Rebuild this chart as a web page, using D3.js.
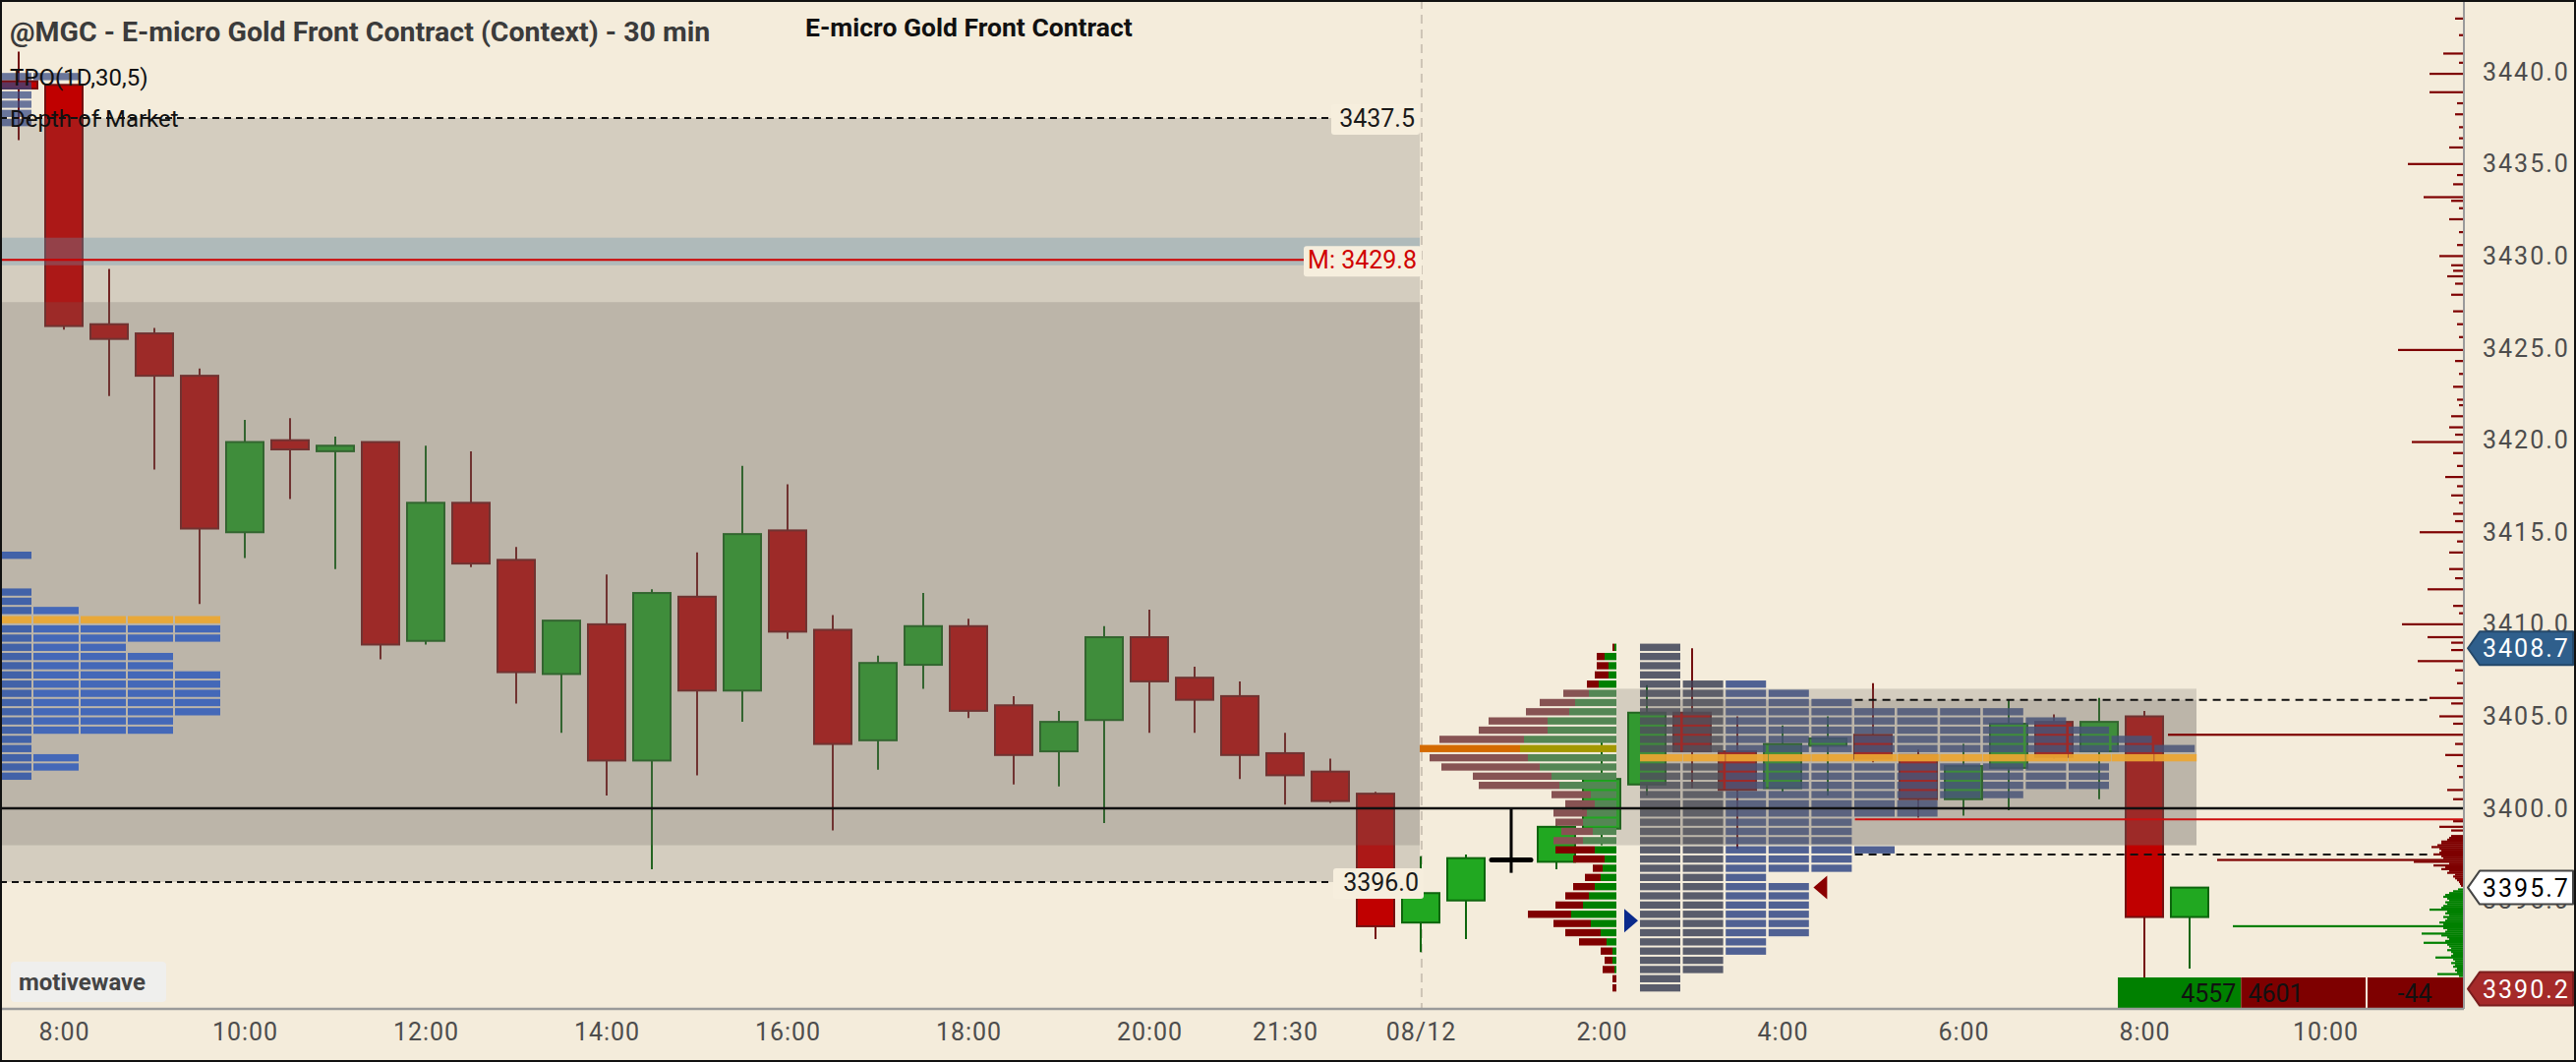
<!DOCTYPE html>
<html>
<head>
<meta charset="utf-8">
<script src="https://cdn.jsdelivr.net/npm/d3@7"></script>
<style>
  body { margin: 0; background: #f4ecdb; }
  svg { display: block; }
</style>
</head>
<body>
<div id="app"></div>
<script>

// ---------- data ----------
// 30 min bars, index 0 = 7:30 of the previous session
var opens  = [3439.5, 3439.3, 3426.3, 3425.8, 3423.5, 3415.0, 3420.0, 3419.4, 3419.9, 3409.1,
              3416.6, 3413.5, 3407.3, 3410.0, 3402.6, 3411.5, 3406.4, 3415.1, 3409.7, 3403.7,
              3407.8, 3409.9, 3405.6, 3403.1, 3404.8, 3409.3, 3407.1, 3406.1, 3403.0, 3402.0,
              3400.8, 3393.8, 3395.0, 3397.2, 3397.1, 3398.9, 3401.3, 3405.2, 3403.1, 3401.1,
              3403.4, 3404.0, 3402.9, 3400.5, 3402.2, 3404.7, 3403.1, 3405.0, 3394.1];
var highs  = [3441.1, 3439.3, 3429.3, 3426.1, 3423.9, 3421.1, 3421.2, 3420.2, 3419.9, 3419.7,
              3419.4, 3414.2, 3410.2, 3412.7, 3411.9, 3413.9, 3418.6, 3417.6, 3410.5, 3408.3,
              3411.7, 3410.3, 3406.1, 3405.3, 3409.9, 3410.8, 3407.7, 3406.9, 3404.1, 3402.7,
              3400.9, 3397.4, 3397.5, 3400.0, 3399.2, 3403.7, 3406.7, 3408.7, 3405.0, 3404.5,
              3405.0, 3406.8, 3403.2, 3403.5, 3405.9, 3405.1, 3406.0, 3405.3, 3395.7];
var lows   = [3436.3, 3426.0, 3422.4, 3418.4, 3411.1, 3413.6, 3416.8, 3413.0, 3408.1, 3408.9,
              3413.1, 3405.7, 3404.1, 3400.7, 3396.7, 3401.8, 3404.7, 3409.2, 3398.8, 3402.1,
              3406.5, 3404.9, 3401.3, 3401.2, 3399.2, 3404.1, 3404.1, 3401.6, 3400.2, 3400.3,
              3392.9, 3392.2, 3392.9, 3396.5, 3396.7, 3398.0, 3400.7, 3401.1, 3397.8, 3400.9,
              3400.7, 3402.5, 3399.5, 3399.6, 3399.9, 3402.7, 3400.5, 3390.2, 3391.3];
var closes = [3439.1, 3426.2, 3425.5, 3423.5, 3415.2, 3419.9, 3419.5, 3419.7, 3408.9, 3416.6,
              3413.3, 3407.4, 3410.2, 3402.6, 3411.7, 3406.4, 3414.9, 3409.6, 3403.5, 3407.9,
              3409.9, 3405.3, 3402.9, 3404.7, 3409.3, 3406.9, 3405.9, 3402.9, 3401.8, 3400.4,
              3393.6, 3395.4, 3397.3, 3397.2, 3399.0, 3401.6, 3405.2, 3403.1, 3401.0, 3403.5,
              3403.8, 3402.7, 3400.5, 3402.3, 3404.6, 3402.8, 3404.7, 3394.1, 3395.7];

var timeTickBars   = [1, 5, 9, 13, 17, 21, 25, 28, 31, 35, 39, 43, 47, 51];
var timeTickLabels = ["8:00", "10:00", "12:00", "14:00", "16:00", "18:00", "20:00", "21:30",
                      "08/12", "2:00", "4:00", "6:00", "8:00", "10:00"];
var priceTicks = [3395, 3400, 3405, 3410, 3415, 3420, 3425, 3430, 3435, 3440];

// previous day TPO (left edge)
var tpoTopPrices  = [3439.75, 3439.25, 3438.75, 3438.25, 3437.75, 3437.25];
var tpoTopCounts  = [2, 1, 1, 1, 1, 1];
var tpoPrevPrices = [3413.75, 3411.75, 3411.25, 3410.75, 3410.25, 3409.75, 3409.25, 3408.75,
                     3408.25, 3407.75, 3407.25, 3406.75, 3406.25, 3405.75, 3405.25, 3404.75,
                     3404.25, 3403.75, 3403.25, 3402.75, 3402.25, 3401.75];
var tpoPrevCounts = [1, 1, 1, 2, 5, 5, 5, 3, 4, 4, 5, 5, 5, 5, 5, 4, 4, 1, 1, 2, 2, 1];
var tpoPrevPoc = 3410.25;

// current session rows (TPO + volume profile)
var curRows = [3408.75, 3408.25, 3407.75, 3407.25, 3406.75, 3406.25, 3405.75, 3405.25,
               3404.75, 3404.25, 3403.75, 3403.25, 3402.75, 3402.25, 3401.75, 3401.25,
               3400.75, 3400.25, 3399.75, 3399.25, 3398.75, 3398.25, 3397.75, 3397.25,
               3396.75, 3396.25, 3395.75, 3395.25, 3394.75, 3394.25, 3393.75, 3393.25,
               3392.75, 3392.25, 3391.75, 3391.25, 3390.75, 3390.25];
var tpoCurCounts = [1, 1, 1, 1, 3, 4, 5, 9, 10, 11, 12, 13, 13, 11, 11, 11, 9, 7, 7, 5,
                    5, 5, 6, 5, 5, 3, 4, 4, 4, 4, 4, 4, 3, 3, 2, 2, 1, 1];
var tpoCurPoc = 3402.75;
var volSell = [2, 8, 12, 14, 12, 26, 36, 44, 60, 70, 86, 102, 100, 100, 80, 82, 40, 30, 34, 28,
               32, 30, 40, 32, 10, 16, 22, 24, 28, 44, 38, 36, 28, 12, 8, 12, 4, 4];
var volBuy  = [2, 12, 8, 8, 18, 28, 42, 48, 70, 70, 94, 98, 90, 78, 66, 58, 26, 22, 30, 34,
               24, 34, 22, 12, 14, 16, 22, 28, 34, 46, 26, 16, 10, 4, 4, 2, 0, 0];
var volPoc = 3403.25, volVAHigh = 3406.25, volVALow = 3398.25;

// depth of market
var askPrices = [3442.9, 3442.0, 3441.0, 3440.5, 3439.9, 3438.9, 3438.3, 3437.7, 3437.0, 3436.4,
                 3435.9, 3435.0, 3434.4, 3433.9, 3433.2, 3433.0, 3432.6, 3432.0, 3431.3, 3430.6,
                 3430.0, 3429.5, 3429.2, 3428.9, 3428.5, 3427.9, 3427.0, 3426.3, 3425.6, 3424.9,
                 3424.3, 3423.6, 3422.9, 3422.2, 3421.9, 3421.3, 3420.7, 3420.3, 3419.9, 3419.3,
                 3418.6, 3418.0, 3417.5, 3417.0, 3416.6, 3416.0, 3415.6, 3415.0, 3414.5, 3413.9,
                 3413.0, 3412.5, 3411.9, 3411.0, 3410.6, 3410.0, 3409.3, 3409.0, 3408.6, 3408.0,
                 3407.5, 3406.8, 3406.0, 3405.7, 3405.0, 3404.6, 3404.0, 3403.5, 3402.9, 3402.3,
                 3401.7, 3401.0, 3400.5, 3399.3, 3399.0, 3398.8,
                 3398.5, 3398.4, 3398.3, 3398.2, 3398.1, 3398.0, 3397.9, 3397.8, 3397.7, 3397.6,
                 3397.5, 3397.4, 3397.3, 3397.2, 3397.1, 3397.0, 3396.9, 3396.8, 3396.7, 3396.6,
                 3396.5, 3396.4, 3396.3, 3396.2, 3396.1, 3396.0, 3395.9, 3395.8];
var askSizes  = [4, 2, 10, 2, 17, 17, 3, 4, 2, 2,
                 7, 28, 3, 5, 20, 6, 2, 7, 2, 3,
                 12, 6, 5, 8, 4, 6, 5, 3, 2, 33,
                 4, 2, 5, 3, 2, 6, 7, 4, 26, 5,
                 3, 9, 3, 6, 2, 5, 4, 22, 3, 7,
                 7, 4, 18, 5, 2, 31, 18, 6, 6, 23,
                 4, 3, 17, 6, 12, 5, 150, 4, 9, 3,
                 2, 8, 5, 5, 12, 6,
                 6, 7, 8, 11, 11, 13, 16, 12, 11, 12,
                 15, 11, 10, 125, 25, 7, 15, 9, 11, 7,
                 8, 4, 5, 4, 3, 2, 1.5, 1];
var bidPrices = [3395.6, 3395.5, 3395.4, 3395.3, 3395.2, 3395.1, 3395.0, 3394.9, 3394.8, 3394.7,
                 3394.6, 3394.5, 3394.4, 3394.3, 3394.2, 3394.1, 3394.0, 3393.9, 3393.8, 3393.7,
                 3393.6, 3393.5, 3393.4, 3393.3, 3393.2, 3393.1, 3393.0, 3392.9, 3392.8, 3392.7,
                 3392.6, 3392.5, 3392.4, 3392.3, 3392.2, 3392.1, 3392.0, 3391.9, 3391.8, 3391.7,
                 3391.6, 3391.5, 3391.4, 3391.3, 3391.2, 3391.1, 3391.0, 3390.9];
var bidSizes  = [2.5, 5, 7, 9, 10, 8, 7, 9, 8, 10,
                 11, 17, 8, 9, 7, 10, 8, 9, 12, 10,
                 117, 10, 8, 9, 21, 11, 8, 7, 9, 20,
                 8, 7, 6, 8, 6, 5, 6, 14, 5, 4,
                 6, 4, 5, 3, 4, 3, 13, 2];

// reference levels
var prevVAHigh = 3437.5, prevVALow = 3396.0;
var prevInnerHigh = 3427.5, prevInnerLow = 3398.0;
var prevBandHigh = 3431.0, prevBandLow = 3429.5;
var prevMid = 3429.8;
var roundLevel = 3400.0;
var curBoxHigh = 3406.5, curInnerHigh = 3405.9, curBoxLow = 3398.0;
var curVAH = 3405.9, curVAL = 3397.5;
var redLevel = 3399.4;
var buyMarker = 3393.9, sellMarker = 3395.7;
var sessionHigh = 3408.7, lastPrice = 3395.7, sessionLow = 3390.2;
var buyVol = 4557, sellVol = 4601;

// ---------- layout ----------
var W = 2620, H = 1080;
var plotRight = 2506, plotBottom = 1026;
var sessionBreak = 30.98;     // in bar units
var numFont = "Roboto, 'Liberation Sans', sans-serif";

var x = d3.scaleLinear().domain([0, 1]).range([19, 65]);
var y = d3.scaleLinear().domain([3396.0, 3437.5]).range([897, 120]);
var rowH = y(0) - y(0.5);
var tpoPrevX = d3.scaleLinear().domain([0, 1]).range([-14, 34]);
var tpoCurX  = d3.scaleLinear().domain([0, 1]).range([1668, 1711.6]);
var volLen = d3.scaleLinear().domain([0, 100]).range([0, 100]);
var domLen = d3.scaleLinear().domain([0, 100]).range([0, 200]);
var profileRight = 1644, domRight = 2505;
var curBoxLeft = 1644, curInnerLeft = 1668, curBoxRight = 2234;

function rowTop(p) { return y(p + 0.25) + 1; }

var svg = d3.select("#app")
    .append("svg")
    .attr("width", W)
    .attr("height", H);

svg.append("rect").attr("width", W).attr("height", H).attr("fill", "#f4ecdb");

svg.append("defs").append("clipPath").attr("id", "plotclip")
    .append("rect").attr("x", 0).attr("y", 0).attr("width", plotRight).attr("height", plotBottom);

var plot = svg.append("g").attr("clip-path", "url(#plotclip)");

// session separator
plot.append("line")
    .attr("x1", x(31.02)).attr("x2", x(31.02))
    .attr("y1", 0).attr("y2", plotBottom)
    .attr("stroke", "#cdc4b6").attr("stroke-width", 2)
    .attr("stroke-dasharray", "9,6");

// ---------- candles ----------
var idx = d3.range(opens.length);
function candleColor(i) {
    if (opens[i] === closes[i]) return { fill: "#000", stroke: "#000" };
    return closes[i] > opens[i]
        ? { fill: "#21a821", stroke: "#0d650d" }
        : { fill: "#c00000", stroke: "#741010" };
}

var candles = plot.append("g")
    .selectAll(".candle")
    .data(idx)
    .enter()
    .append("g")
    .attr("class", "candle");

candles.append("line")
    .attr("x1", function (i) { return x(i); })
    .attr("x2", function (i) { return x(i); })
    .attr("y1", function (i) { return y(highs[i]); })
    .attr("y2", function (i) { return y(lows[i]); })
    .attr("stroke", function (i) { return candleColor(i).stroke; })
    .attr("stroke-width", function (i) { return opens[i] === closes[i] ? 3 : 2; });

candles.filter(function (i) { return opens[i] !== closes[i]; })
    .append("rect")
    .attr("x", function (i) { return x(i) - 19; })
    .attr("width", 38)
    .attr("y", function (i) { return y(Math.max(opens[i], closes[i])); })
    .attr("height", function (i) { return Math.max(3, Math.abs(y(opens[i]) - y(closes[i]))); })
    .attr("fill", function (i) { return candleColor(i).fill; })
    .attr("stroke", function (i) { return candleColor(i).stroke; })
    .attr("stroke-width", 2);

candles.filter(function (i) { return opens[i] === closes[i]; })
    .append("line")
    .attr("x1", function (i) { return x(i) - 20; })
    .attr("x2", function (i) { return x(i) + 20; })
    .attr("y1", function (i) { return y(opens[i]); })
    .attr("y2", function (i) { return y(opens[i]); })
    .attr("stroke", "#000").attr("stroke-width", 5).attr("stroke-linecap", "round");

// ---------- current session TPO (under the shading) ----------
var curTpo = plot.append("g");
curRows.forEach(function (p, r) {
    if (p === tpoCurPoc) return;
    for (var k = 0; k < tpoCurCounts[r]; k++) {
        curTpo.append("rect")
            .attr("x", tpoCurX(k)).attr("width", 41)
            .attr("y", rowTop(p)).attr("height", rowH - 2)
            .attr("fill", k < 2 ? "rgba(58,64,86,0.84)" : "rgba(48,70,134,0.84)");
    }
});

// ---------- shaded value areas ----------
var shade = "rgba(110,104,100,0.23)";
function box(x0, x1, pHi, pLo, fill) {
    plot.append("rect")
        .attr("x", x0).attr("width", x1 - x0)
        .attr("y", y(pHi)).attr("height", y(pLo) - y(pHi))
        .attr("fill", fill);
}
box(0, x(sessionBreak), prevVAHigh, prevVALow, shade);
box(0, x(sessionBreak), prevInnerHigh, prevInnerLow, shade);
box(0, x(sessionBreak), prevBandHigh, prevBandLow, "rgba(100,150,176,0.33)");
box(curBoxLeft, curBoxRight, curBoxHigh, curBoxLow, shade);
box(curInnerLeft, curBoxRight, curInnerHigh, curBoxLow, shade);

// current TPO point of control
curRows.forEach(function (p, r) {
    if (p !== tpoCurPoc) return;
    for (var k = 0; k < tpoCurCounts[r]; k++) {
        plot.append("rect")
            .attr("x", tpoCurX(k)).attr("width", 43)
            .attr("y", rowTop(p)).attr("height", rowH - 2)
            .attr("fill", "rgba(236,166,50,0.92)");
    }
});

// ---------- previous day TPO blocks ----------
var prevTpo = plot.append("g");
tpoTopPrices.forEach(function (p, r) {
    for (var k = 0; k < tpoTopCounts[r]; k++) {
        prevTpo.append("rect")
            .attr("x", tpoPrevX(k)).attr("width", 46)
            .attr("y", rowTop(p)).attr("height", rowH - 2)
            .attr("fill", "rgba(52,72,130,0.72)");
    }
});
tpoPrevPrices.forEach(function (p, r) {
    for (var k = 0; k < tpoPrevCounts[r]; k++) {
        prevTpo.append("rect")
            .attr("x", tpoPrevX(k)).attr("width", 46)
            .attr("y", rowTop(p)).attr("height", rowH - 2)
            .attr("fill", p === tpoPrevPoc ? "#e8a83a" : (k === 0 ? "#4262a8" : "#4468b8"));
    }
});

// ---------- volume profile ----------
var prof = plot.append("g");
curRows.forEach(function (p, r) {
    var inVA = p <= volVAHigh && p >= volVALow;
    var isPoc = p === volPoc;
    var bw = volLen(volBuy[r]), sw = volLen(volSell[r]);
    prof.append("rect")
        .attr("x", profileRight - bw - sw).attr("width", sw)
        .attr("y", rowTop(p)).attr("height", rowH - 2)
        .attr("fill", isPoc ? "#d46a00" : (inVA ? "#875353" : "#800000"));
    prof.append("rect")
        .attr("x", profileRight - bw).attr("width", bw)
        .attr("y", rowTop(p)).attr("height", rowH - 2)
        .attr("fill", isPoc ? "#a39800" : (inVA ? "#548654" : "#008000"));
});

// ---------- level lines ----------
function hline(p, x0, x1, color, w, dash) {
    var l = plot.append("line")
        .attr("x1", x0).attr("x2", x1)
        .attr("y1", y(p)).attr("y2", y(p))
        .attr("stroke", color).attr("stroke-width", w);
    if (dash) l.attr("stroke-dasharray", dash);
}
hline(prevVAHigh, 0, 1354, "#111", 2, "7,5");
hline(prevVALow, 0, 1356, "#111", 2, "7,5");
hline(prevMid, 0, 1326, "#cc0000", 2);
hline(roundLevel, 0, plotRight, "#111", 2.5);
hline(redLevel, x(40.6), plotRight, "#cc1010", 2);
hline(curVAH, x(40.6), 2474, "#111", 2, "8,6");
hline(curVAL, x(40.6), 2474, "#111", 2, "8,6");

// ---------- depth of market ----------
var dom = plot.append("g");
askPrices.forEach(function (p, i) {
    dom.append("rect")
        .attr("x", domRight - domLen(askSizes[i])).attr("width", domLen(askSizes[i]))
        .attr("y", y(p) - 1.1).attr("height", 2.2)
        .attr("fill", "#7e0000");
});
bidPrices.forEach(function (p, i) {
    dom.append("rect")
        .attr("x", domRight - domLen(bidSizes[i])).attr("width", domLen(bidSizes[i]))
        .attr("y", y(p) - 1.1).attr("height", 2.2)
        .attr("fill", "#008000");
});

// ---------- markers ----------
plot.append("path")
    .attr("d", "M" + (profileRight + 8) + "," + (y(buyMarker) - 12) +
               " L" + (profileRight + 22) + "," + y(buyMarker) +
               " L" + (profileRight + 8) + "," + (y(buyMarker) + 12) + "Z")
    .attr("fill", "#0a2a8c");
plot.append("path")
    .attr("d", "M" + (tpoCurX(4) + 16) + "," + (y(sellMarker) - 12) +
               " L" + (tpoCurX(4) + 2) + "," + y(sellMarker) +
               " L" + (tpoCurX(4) + 16) + "," + (y(sellMarker) + 12) + "Z")
    .attr("fill", "#8a0000");

// ---------- level labels (left session) ----------
function levelLabel(p, x0, x1, txt, color) {
    plot.append("rect")
        .attr("x", x0).attr("width", x1 - x0)
        .attr("y", y(p) - 14).attr("height", 31).attr("rx", 3)
        .attr("fill", "#f6eedd");
    plot.append("text")
        .attr("x", x1 - 5).attr("y", y(p) + 9)
        .attr("text-anchor", "end")
        .style("font-family", numFont).style("font-size", "25px")
        .attr("fill", color).text(txt);
}
levelLabel(prevVAHigh, 1354, 1444, prevVAHigh.toFixed(1), "#1a1a1a");
levelLabel(prevMid, 1326, 1446, "M: " + prevMid.toFixed(1), "#d00000");
levelLabel(prevVALow, 1356, 1448, prevVALow.toFixed(1), "#1a1a1a");

// ---------- buy / sell volume strip ----------
var volStrip = d3.scaleLinear().domain([0, buyVol + sellVol]).range([0, 252]);
var stripX = 2154, stripY = 994, stripH = 31;
svg.append("rect").attr("x", stripX).attr("y", stripY)
    .attr("width", volStrip(buyVol)).attr("height", stripH).attr("fill", "#008000");
svg.append("rect").attr("x", stripX + volStrip(buyVol)).attr("y", stripY)
    .attr("width", volStrip(sellVol)).attr("height", stripH).attr("fill", "#7e0000");
svg.append("rect").attr("x", stripX + volStrip(buyVol + sellVol) + 2).attr("y", stripY)
    .attr("width", plotRight - (stripX + volStrip(buyVol + sellVol) + 2)).attr("height", stripH)
    .attr("fill", buyVol - sellVol < 0 ? "#7e0000" : "#008000");
svg.append("text").attr("x", stripX + volStrip(buyVol) - 5).attr("y", stripY + 25)
    .attr("text-anchor", "end").style("font-family", numFont).style("font-size", "25px")
    .attr("fill", "#111").text(buyVol);
svg.append("text").attr("x", stripX + volStrip(buyVol) + 7).attr("y", stripY + 25)
    .style("font-family", numFont).style("font-size", "25px")
    .attr("fill", "#111").text(sellVol);
svg.append("text").attr("x", 2456).attr("y", stripY + 25)
    .attr("text-anchor", "middle").style("font-family", numFont).style("font-size", "25px")
    .attr("fill", "#111").text(buyVol - sellVol);

// ---------- axes ----------
var yAxis = d3.axisRight(y).tickValues(priceTicks).tickSize(0).tickPadding(19)
    .tickFormat(function (d) { return d.toFixed(1); });
var gy = svg.append("g").attr("transform", "translate(" + plotRight + ",0)").call(yAxis);
gy.select(".domain").remove();
gy.selectAll("text")
    .style("font-family", numFont).style("font-size", "25px")
    .style("letter-spacing", "2px").attr("fill", "#4d4d4d");

svg.append("line").attr("x1", plotRight).attr("x2", plotRight)
    .attr("y1", 0).attr("y2", plotBottom)
    .attr("stroke", "#9a9a9a").attr("stroke-width", 2);

var xAxis = d3.axisBottom(x).tickValues(timeTickBars).tickSize(0).tickPadding(14)
    .tickFormat(function (d, i) { return timeTickLabels[i]; });
var gx = svg.append("g").attr("transform", "translate(0," + plotBottom + ")").call(xAxis);
gx.select(".domain").remove();
gx.selectAll("text")
    .style("font-family", numFont).style("font-size", "25px")
    .style("letter-spacing", "1px").attr("fill", "#4d4d4d");

svg.append("line").attr("x1", 0).attr("x2", plotRight)
    .attr("y1", plotBottom).attr("y2", plotBottom)
    .attr("stroke", "#9a9a9a").attr("stroke-width", 2.5);

// price tags on the axis
function priceTag(p, fill, stroke, color) {
    var cy = y(p), x0 = plotRight + 4, x1 = plotRight + 16, x2 = W - 3;
    svg.append("path")
        .attr("d", "M" + x0 + "," + cy + " L" + x1 + "," + (cy - 17) + " L" + x2 + "," + (cy - 17) +
                   " L" + x2 + "," + (cy + 17) + " L" + x1 + "," + (cy + 17) + "Z")
        .attr("fill", fill).attr("stroke", stroke).attr("stroke-width", 2)
        .attr("stroke-linejoin", "round");
    svg.append("text").attr("x", plotRight + 19).attr("y", cy + 9)
        .style("font-family", numFont).style("font-size", "25px")
        .style("letter-spacing", "2px").attr("fill", color)
        .text(p.toFixed(1));
}
priceTag(sessionHigh, "#2f5f8c", "#24486a", "#fff");
priceTag(lastPrice, "#ffffff", "#444", "#000");
priceTag(sessionLow, "#a52a2a", "#7a1e1e", "#fff");

// ---------- titles ----------
svg.append("text").attr("x", 10).attr("y", 42)
    .style("font-family", "Roboto, sans-serif").style("font-weight", "700").style("font-size", "28.5px")
    .attr("fill", "#3b3b3b")
    .text("@MGC - E-micro Gold Front Contract (Context) - 30 min");
svg.append("text").attr("x", 819).attr("y", 37)
    .style("font-family", "Roboto, sans-serif").style("font-weight", "700").style("font-size", "26.5px")
    .attr("fill", "#111")
    .text("E-micro Gold Front Contract");
svg.append("text").attr("x", 10).attr("y", 87)
    .style("font-family", "Roboto, sans-serif").style("font-size", "24px")
    .attr("fill", "#111").text("TPO(1D,30,5)");
svg.append("text").attr("x", 10).attr("y", 129)
    .style("font-family", "Roboto, sans-serif").style("font-size", "24px")
    .attr("fill", "#111").text("Depth of Market");

// watermark
svg.append("rect").attr("x", 11).attr("y", 978).attr("width", 158).attr("height", 41)
    .attr("rx", 4).attr("fill", "#efefed");
svg.append("text").attr("x", 19).attr("y", 1007)
    .style("font-family", "Roboto, sans-serif").style("font-weight", "700").style("font-size", "24px")
    .attr("fill", "#444").text("motivewave");

// frame
svg.append("rect").attr("x", 1).attr("y", 1).attr("width", W - 2).attr("height", H - 2)
    .attr("fill", "none").attr("stroke", "#111").attr("stroke-width", 2);

</script>
</body>
</html>
